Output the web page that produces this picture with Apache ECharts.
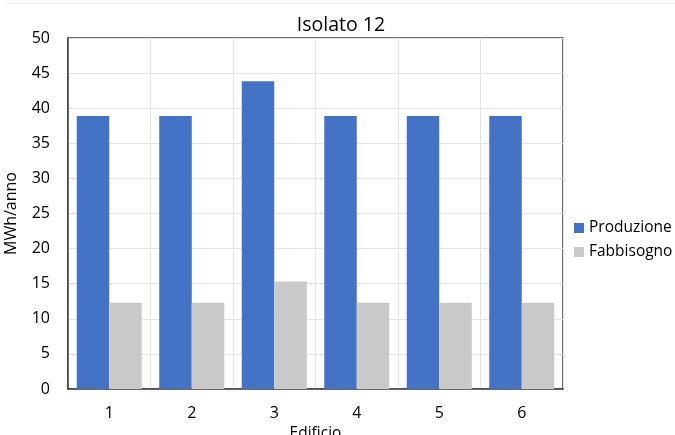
<!DOCTYPE html>
<html><head><meta charset="utf-8">
<script src="https://cdn.jsdelivr.net/npm/echarts@6/dist/echarts.min.js"></script>
<style>html,body{margin:0;padding:0;background:#fff}#c{width:675px;height:435px}</style>
</head><body><div id="c"></div>
<script>
const categories = ['1','2','3','4','5','6'];
const produzione = [38.9, 38.9, 43.85, 38.9, 38.9, 38.9];
const fabbisogno = [12.3, 12.3, 15.3, 12.3, 12.3, 12.3];
const FONT = 'Open Sans';
const chart = echarts.init(document.getElementById('c'));
chart.setOption({
  animation: false,
  textStyle: {fontFamily: FONT},
  title: {text: 'Isolato 12', left: 336, top: 10, textAlign: 'center',
    textStyle: {fontFamily: FONT, fontSize: 19.5, fontWeight: 'normal', color: '#000'}},
  graphic: [{type: 'line', shape: {x1: 5, y1: 3.5, x2: 675, y2: 3.5}, style: {stroke: '#eeeeee', lineWidth: 1}}],
  legend: {orient: 'vertical', left: 569, top: 215, itemWidth: 10, itemHeight: 10, itemGap: 8,
    icon: 'rect', textStyle: {fontFamily: FONT, fontSize: 15.5, color: '#000'},
    data: ['Produzione', 'Fabbisogno']},
  grid: {left: 68, right: 112, top: 38, bottom: 46, outerBoundsMode: 'none', show: true, borderColor: '#404040', borderWidth: 1.5},
  xAxis: {type: 'category', data: categories, name: 'Edificio', nameLocation: 'middle', nameGap: 34,
    nameTextStyle: {fontFamily: FONT, fontSize: 15.5, color: '#000'},
    axisLine: {lineStyle: {color: '#404040', width: 1.5}}, axisTick: {show: false},
    axisLabel: {fontFamily: FONT, fontSize: 16, color: '#000', margin: 16},
    splitLine: {show: true, lineStyle: {color: '#e3e3e3', width: 1}}},
  yAxis: {type: 'value', min: 0, max: 50, interval: 5, name: 'MWh/anno', nameLocation: 'middle', nameGap: 49,
    nameTextStyle: {fontFamily: FONT, fontSize: 16, color: '#000', padding: [0, 0, 0, 0]},
    axisLine: {show: true, lineStyle: {color: '#404040', width: 1.5}}, axisTick: {show: false},
    axisLabel: {fontFamily: FONT, fontSize: 16, color: '#000', margin: 18},
    splitLine: {lineStyle: {color: '#e3e3e3', width: 1}}},
  series: [
    {name: 'Produzione', type: 'bar', data: produzione, barWidth: 32.5, barGap: '0%',
     itemStyle: {color: '#4472C4'}},
    {name: 'Fabbisogno', type: 'bar', data: fabbisogno, barWidth: 32.5, barGap: '0%',
     itemStyle: {color: '#C9C9C9'}}
  ]
});
</script></body></html>
